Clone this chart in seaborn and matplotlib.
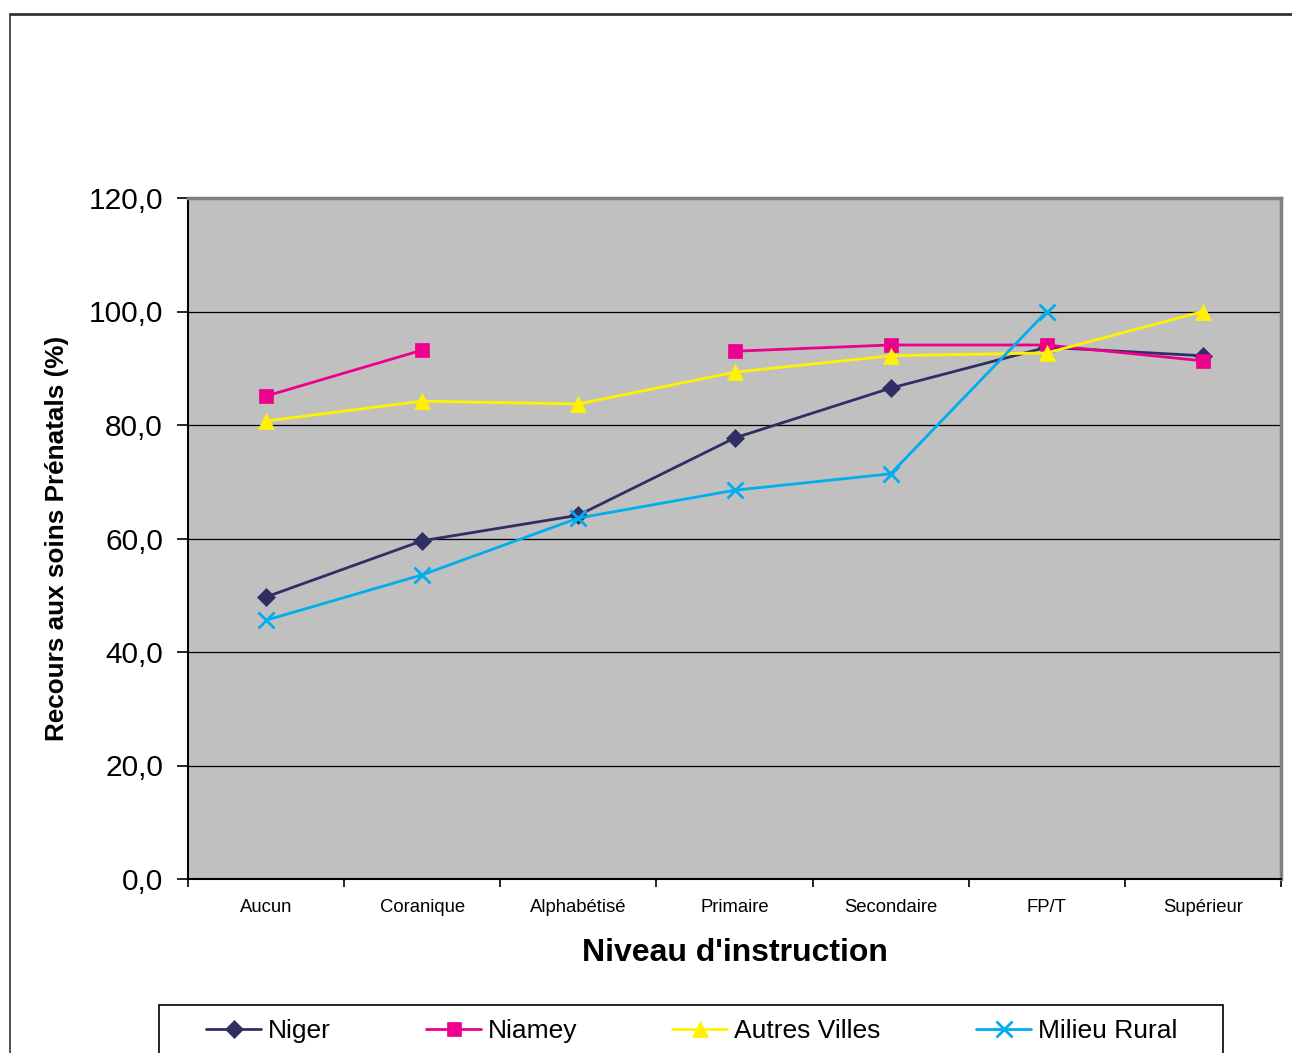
import numpy as np
import pandas as pd
import matplotlib
matplotlib.use("Agg")
import matplotlib.pyplot as plt
from matplotlib.lines import Line2D
from matplotlib.patches import Rectangle
from matplotlib.ticker import FuncFormatter, FixedLocator
import seaborn as sns

# Niveau d'instruction
categories = ["Aucun", "Coranique", "Alphabétisé", "Primaire", "Secondaire", "FP/T", "Supérieur"]

# Recours aux soins prénatals (%) par milieu de résidence
niger = [49.7, 59.6, 64.1, 77.7, 86.5, 93.7, 92.2]
niamey = [85.1, 93.2, np.nan, 93.0, 94.1, 94.1, 91.3]
autres_villes = [80.7, 84.2, 83.7, 89.3, 92.2, 92.7, 100.0]
milieu_rural = [45.6, 53.6, 63.6, 68.5, 71.4, 100.0, np.nan]

series_names = ["Niger", "Niamey", "Autres Villes", "Milieu Rural"]
series_values = [niger, niamey, autres_villes, milieu_rural]
colors = ["#2F2F66", "#EC008C", "#FFF200", "#00AEEF"]
markers = ["D", "s", "^", "x"]
marker_sizes = [9, 10.5, 11.5, 11.5]

y_ticks = [0, 20, 40, 60, 80, 100, 120]

sns.set_style("ticks")
plt.rcParams["font.family"] = ["Liberation Sans", "DejaVu Sans"]
for key in ["text.color", "axes.labelcolor", "xtick.color", "ytick.color"]:
    plt.rcParams[key] = "#000000"

fig = plt.figure(figsize=(12.92, 10.53), dpi=100)
ax = fig.add_axes([188 / 1292, 1 - 879 / 1053, (1281 - 188) / 1292, (879 - 198) / 1053])
ax.set_facecolor("#C0C0C0")

# Long-form table; a gap (missing value) starts a new segment so the line breaks there
rows = []
for name, vals in zip(series_names, series_values):
    seg = 0
    prev_nan = False
    for i, v in enumerate(vals):
        if np.isnan(v):
            prev_nan = True
            continue
        if prev_nan:
            seg += 1
            prev_nan = False
        rows.append({"serie": name, "pos": i, "valeur": v, "segment": f"{name}-{seg}"})
df = pd.DataFrame(rows)

for name, col, mk, ms in zip(series_names, colors, markers, marker_sizes):
    sub = df[df["serie"] == name]
    for seg_name, seg_df in sub.groupby("segment"):
        sns.lineplot(data=seg_df, x="pos", y="valeur", ax=ax, color=col, linewidth=2.0,
                     marker=mk, markersize=ms, markeredgewidth=2.0 if mk == "x" else 0.5,
                     markeredgecolor=col, estimator=None, sort=True, legend=False, zorder=3)

ax.set_xlim(-0.5, len(categories) - 0.5)
ax.set_ylim(0, 120)
ax.set_yticks(y_ticks)
ax.yaxis.set_major_formatter(FuncFormatter(lambda v, p: f"{v:.1f}".replace(".", ",")))
ax.grid(axis="y", color="#000000", linewidth=0.9, zorder=1)
ax.set_axisbelow(True)

ax.set_xticks(range(len(categories)))
ax.set_xticklabels(categories, fontsize=13.3)
ax.xaxis.set_minor_locator(FixedLocator(np.arange(-0.5, len(categories), 1.0)))
ax.tick_params(axis="x", which="major", length=0, pad=14.5)
ax.tick_params(axis="x", which="minor", length=6, width=1.2, color="#000000", direction="out")
ax.tick_params(axis="y", which="major", length=8, width=1.2, color="#000000", direction="out",
               pad=10, labelsize=21.5)

for side in ["left", "bottom"]:
    ax.spines[side].set_color("#000000")
    ax.spines[side].set_linewidth(1.5)
for side in ["top", "right"]:
    ax.spines[side].set_visible(True)
    ax.spines[side].set_color("#808080")
    ax.spines[side].set_linewidth(2.5)

ax.set_xlabel("Niveau d'instruction", fontsize=23, fontweight="bold", labelpad=16)
ax.set_ylabel("Recours aux soins Prénatals (%)", fontsize=18.8, fontweight="bold", labelpad=14)

# Chart frame (top and left edges)
fig.add_artist(Line2D([10 / 1292, 1.0], [1 - 14 / 1053, 1 - 14 / 1053], transform=fig.transFigure,
                      color="#333333", linewidth=2.0))
fig.add_artist(Line2D([10 / 1292, 10 / 1292], [0, 1 - 14 / 1053], transform=fig.transFigure,
                      color="#333333", linewidth=1.2))

# Legend box
fig.add_artist(Rectangle((159 / 1292, -0.01), (1223 - 159) / 1292, 0.01 + (1053 - 1005) / 1053,
                         transform=fig.transFigure, facecolor="white", edgecolor="#000000",
                         linewidth=1.2))
legend_x = [206, 426, 672, 976]
for name, col, mk, ms, lx in zip(series_names, colors, markers, marker_sizes, legend_x):
    h = Line2D([], [], color=col, linewidth=2.0, marker=mk, markersize=ms,
               markeredgecolor=col, markeredgewidth=2.0 if mk == "x" else 0.5)
    fig.legend(handles=[h], labels=[name], loc="center left",
               bbox_to_anchor=(lx / 1292, 1 - 1031 / 1053), frameon=False, fontsize=19,
               handlelength=2.1, handletextpad=0.25, borderpad=0, borderaxespad=0)

fig.savefig("out.png", dpi=100, facecolor="white")
